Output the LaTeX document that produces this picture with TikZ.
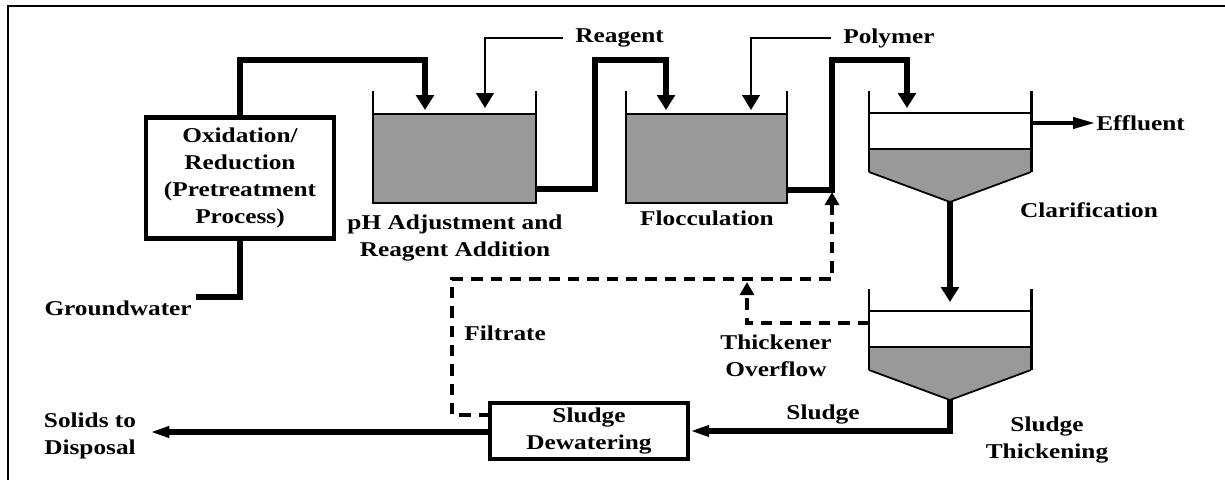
\documentclass[tikz,border=0pt]{standalone}
\usepackage{fontspec}
\setmainfont{Liberation Serif}[FakeStretch=1.2]
\usetikzlibrary{arrows.meta}
\definecolor{sludgegray}{HTML}{999999}
\tikzset{
    pipe/.style={line width=3.4pt},
    feed/.style={line width=1.1pt},
    recycle/.style={line width=1.8pt,dash pattern=on 6.5pt off 4.5pt},
    wall/.style={line width=1.7pt},
    lbl/.style={font=\bfseries\fontsize{12}{15.3}\selectfont,align=center,inner sep=0pt},
    bigtip/.style={-{Triangle[length=8.5pt,width=10pt]}},
    longtip/.style={-{Triangle[length=11pt,width=6pt]}},
    dashtip/.style={-{Triangle[length=7.5pt,width=8pt]}},
}
\begin{document}
\begin{tikzpicture}[x=0.02cm,y=-0.02cm]
    \useasboundingbox (0,0) rectangle (1225,480);
    \draw[line width=1.7pt] (8,480) -- (8,6) -- (1225,6);

    \foreach \l/\r in {373/536,626/787}
        {
            \fill[sludgegray] (\l,114) rectangle (\r,203);
            \draw[line width=1pt] (\l,114) -- (\r,114);
            \draw[wall] (\l,91) -- (\l,203) -- (\r,203) -- (\r,91);
        }

    \foreach \t in {91,289}
        {
            \fill[sludgegray] (869,\t+58) -- (1031,\t+58) -- (1031,\t+81) -- (950,\t+111) -- (869,\t+81) -- cycle;
            \draw[line width=1pt] (869,\t+22) -- (1031,\t+22);
            \draw[line width=1pt] (869,\t+58) -- (1031,\t+58);
            \draw[line width=1pt] (869,\t+81) -- (950,\t+111) -- (1031,\t+81);
            \draw[wall] (869,\t) -- (869,\t+81);
            \draw[wall] (1031,\t) -- (1031,\t+81);
        }

    \coordinate (tankA in) at (425,110);
    \coordinate (tankA out) at (536,189);
    \coordinate (tankB in) at (666,110);
    \coordinate (tankB out) at (787,190);
    \coordinate (clar in) at (907,108);
    \coordinate (clar apex) at (950,202);
    \coordinate (clar out) at (1031,123);
    \coordinate (thick in) at (950,302);
    \coordinate (thick apex) at (950,400);
    \coordinate (thick over) at (869,323);
    \coordinate (gw in) at (196,297);
    \coordinate (solids end) at (150,432);

    \node[lbl,draw,line width=2.4pt,minimum width=3.76cm,minimum height=2.42cm] (oxid) at (240,178)
        {Oxidation/\\Reduction\\(Pretreatment\\Process)};
    \node[lbl,draw,line width=2.2pt,minimum width=3.96cm,minimum height=1.12cm] (dewat) at (589,431)
        {Sludge\\Dewatering};

    \node[lbl,anchor=west] (reagent) at (575,38) {Reagent};
    \node[lbl,anchor=west] (polymer) at (843,38) {Polymer};
    \node[lbl,anchor=west] (effluent) at (1096,123) {Effluent};
    \node[lbl,anchor=east] (gw) at (192,308) {Groundwater};
    \node[lbl] (phadj) at (455,238) {pH Adjustment and\\Reagent Addition};
    \node[lbl] (floc) at (707,218) {Flocculation};
    \node[lbl] (clarif) at (1089,210) {Clarification};
    \node[lbl,anchor=west] (filtrate) at (464,333) {Filtrate};
    \node[lbl] (overflow) at (776,356) {Thickener\\Overflow};
    \node[lbl] (sludge) at (823,415) {Sludge};
    \node[lbl] (thicken) at (1047,440) {Sludge\\Thickening};
    \node[lbl] (solids) at (90,436) {Solids to\\Disposal};

    \draw[pipe] (gw in) -| (oxid.south);
    \draw[pipe,bigtip] (oxid.north) |- (425,60) -- (tankA in);
    \draw[pipe,bigtip] (tankA out) -| (595,60) -| (tankB in);
    \draw[pipe,bigtip] (tankB out) -| (832,60) -| (clar in);
    \draw[pipe,bigtip] (clar apex) -- (thick in);
    \draw[pipe,longtip] (thick apex) |- (dewat.east);
    \draw[pipe,longtip] (dewat.west |- solids end) -- (solids end);
    \draw[line width=2.6pt,-{Triangle[length=13pt,width=6pt]}] (clar out) -- (effluent.west);

    \draw[feed,bigtip] ([xshift=-7pt]reagent.west) -| (485,108);
    \draw[feed,bigtip] ([xshift=-7pt]polymer.west) -| (751,110);

    \draw[recycle,dashtip] (490,415) -| (452,279) -| (832,192);
    \draw[recycle,dashtip] (thick over) -| (747,282);
\end{tikzpicture}
\end{document}
